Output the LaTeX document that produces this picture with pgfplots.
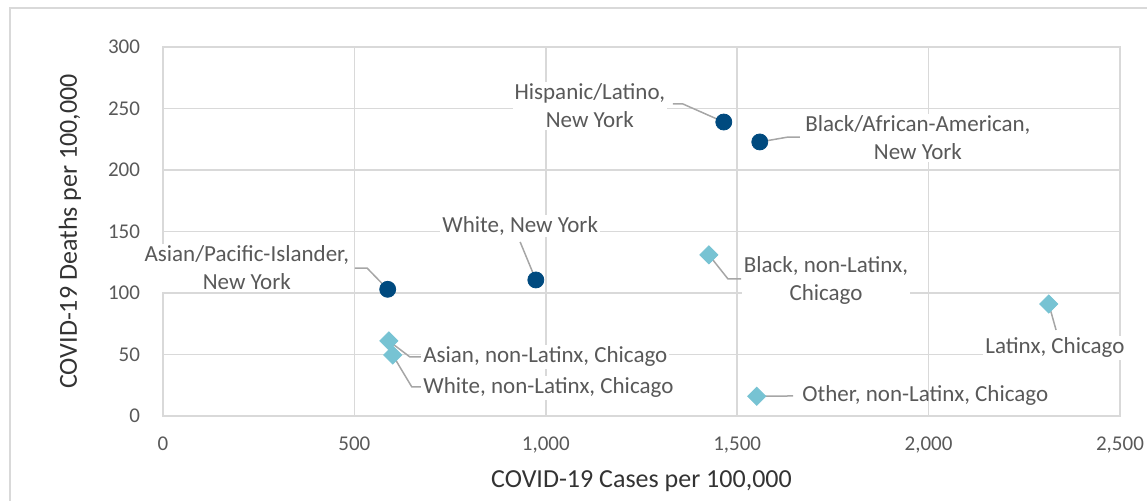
\documentclass[border=0pt]{standalone}
\usepackage{pgfplots}
\pgfplotsset{compat=1.18}
\usepackage{fontspec}
\setmainfont{Carlito}

\definecolor{nyblue}{HTML}{004A7F}
\definecolor{chiteal}{HTML}{77C3D3}
\definecolor{gridgray}{HTML}{D9D9D9}
\definecolor{txtgray}{HTML}{595959}
\definecolor{leadgray}{HTML}{A6A6A6}

\pgfplotstableread{
x y
587 103
974 110.6
1465 239
1559 222.8
}\newyork

\pgfplotstableread{
x y
590 61
600 49.6
1426 131
2314 91
1551 16
}\chicago

\begin{document}
\begin{tikzpicture}[
  lbl/.style={font=\fontsize{11.5}{14}\selectfont, text=txtgray, fill=white, align=center, inner sep=1pt},
  lead/.style={leadgray, line width=0.75pt},
]
\useasboundingbox (-81.5pt,-42.5pt) rectangle (492pt,208pt);
\draw[gridgray, line width=1pt] (-76.5pt,-60pt) -- (-76.5pt,204pt) -- (520pt,204pt);
\begin{axis}[
  scale only axis,
  width=478.5pt, height=184.5pt,
  xmin=0, xmax=2500, ymin=0, ymax=300,
  xtick={0,500,...,2500}, ytick={0,50,...,300},
  grid=major,
  grid style={gridgray, line width=0.75pt},
  axis line style={gridgray, line width=0.75pt},
  major tick length=0pt,
  clip=false,
  /pgf/number format/assume math mode=true,
  /pgf/number format/1000 sep={,},
  ticklabel style={font=\fontsize{10.5}{12}\selectfont, text=txtgray},
  yticklabel style={xshift=-8pt},
  xticklabel style={yshift=-7pt},
  xlabel={COVID-19 Cases per 100,000},
  ylabel={COVID-19 Deaths per 100,000},
  every axis x label/.style={at={(axis description cs:0.5,-0.1762)}, anchor=center,
    font=\fontsize{13}{15}\selectfont, text=black!80},
  every axis y label/.style={at={(axis description cs:-0.0972,0.5)}, anchor=center, rotate=90,
    font=\fontsize{13}{15}\selectfont, text=black!80},
]
\addplot[only marks, mark=*, mark size=4pt, color=nyblue] table {\newyork};
\addplot[only marks, mark=square*, mark size=3.2pt, color=chiteal, mark options={rotate=45}] table {\chicago};

% leader lines
\draw[lead] (axis cs:1332,253.7) -- (axis cs:1358,253.7) -- (axis cs:1465,239);
\draw[lead] (axis cs:1559,222.8) -- (axis cs:1633,226.8) -- (axis cs:1664,226.8);
\draw[lead] (axis cs:933,141.5) -- (axis cs:974,110.6);
\draw[lead] (axis cs:501,120.3) -- (axis cs:533,120.3) -- (axis cs:587,103);
\draw[lead] (axis cs:1426,131) -- (axis cs:1476,111.4) -- (axis cs:1510,111.4);
\draw[lead] (axis cs:2314,91) -- (axis cs:2333,69.9);
\draw[lead] (axis cs:590,61) -- (axis cs:645,48) -- (axis cs:676,48);
\draw[lead] (axis cs:600,49.6) -- (axis cs:650,23.6) -- (axis cs:676,23.6);
\draw[lead] (axis cs:1551,16) -- (axis cs:1646,16.3);

% labels
\node[lbl] at (axis cs:1115,252) {Hispanic/Latino,\\New York};
\node[lbl] at (axis cs:1972,226) {Black/African-American,\\New York};
\node[lbl] at (axis cs:933,154.5) {White, New York};
\node[lbl] at (axis cs:219,120.3) {Asian/Pacific-Islander,\\New York};
\node[lbl] at (axis cs:1732,110.2) {Black, non-Latinx,\\Chicago};
\node[lbl] at (axis cs:2330,55.3) {Latinx, Chicago};
\node[lbl, anchor=west] at (axis cs:674,48) {Asian, non-Latinx, Chicago};
\node[lbl, anchor=west] at (axis cs:674,23) {White, non-Latinx, Chicago};
\node[lbl, anchor=west, fill=none] at (axis cs:1664,16.3) {Other, non-Latinx, Chicago};
\end{axis}
\end{tikzpicture}
\end{document}
